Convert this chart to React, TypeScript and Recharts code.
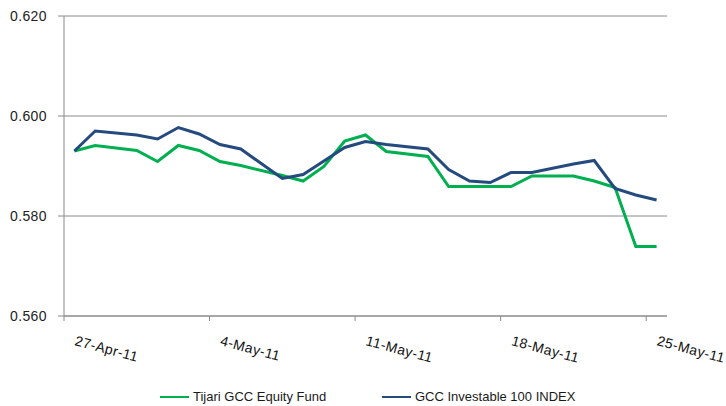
import { CartesianGrid, Legend, Line, LineChart, XAxis, YAxis } from "recharts";

// trading dates (Fridays missing)
const dates = [
  "2011-04-27", "2011-04-28", "2011-04-30", "2011-05-01", "2011-05-02",
  "2011-05-03", "2011-05-04", "2011-05-05", "2011-05-07", "2011-05-08",
  "2011-05-09", "2011-05-10", "2011-05-11", "2011-05-12", "2011-05-14",
  "2011-05-15", "2011-05-16", "2011-05-17", "2011-05-18", "2011-05-19",
  "2011-05-21", "2011-05-22", "2011-05-23", "2011-05-24", "2011-05-25",
];

const tijariFund = [
  0.593, 0.5941, 0.5931, 0.5909, 0.5941,
  0.5931, 0.5909, 0.5901, 0.5881, 0.587,
  0.5899, 0.595, 0.5962, 0.5929, 0.5919,
  0.5859, 0.5859, 0.5859, 0.5859, 0.588,
  0.588, 0.587, 0.5857, 0.5739, 0.5739,
];

const gccIndex = [
  0.593, 0.597, 0.5962, 0.5954, 0.5977,
  0.5964, 0.5943, 0.5934, 0.5875, 0.5883,
  0.591, 0.5937, 0.5949, 0.5943, 0.5934,
  0.5893, 0.587, 0.5867, 0.5887, 0.5887,
  0.5904, 0.5911, 0.5855, 0.5842, 0.5832,
];

const xTickLabels = ["27-Apr-11", "4-May-11", "11-May-11", "18-May-11", "25-May-11"];
const yTicks = [0.56, 0.58, 0.6, 0.62];

const START = Date.UTC(2011, 3, 27);
const DAY = 86400000;

const data = dates.map((d, i) => ({
  day: (Date.parse(d) - START) / DAY,
  fund: tijariFund[i],
  index: gccIndex[i],
}));

// date axis: each day is a slot, ticks on slot edges every week
const xTicks = xTickLabels.map((_, i) => i * 7 - 0.5);

const GREEN = "#00B050";
const BLUE = "#244A7E";
const GRID = "#8a8a8a";

function DateTick(props: any) {
  const { x, y, payload } = props;
  const idx = xTicks.indexOf(payload.value);
  return (
    <g transform={`translate(${x + 10},${y + 22}) rotate(15)`}>
      <text x={0} y={0} textAnchor="start" fontSize={14} fill="#111" letterSpacing={0.4}>
        {xTickLabels[idx]}
      </text>
    </g>
  );
}

function LegendBox() {
  const item = (left: number, color: string, label: string) => (
    <div
      style={{
        position: "absolute",
        left,
        top: 7,
        height: 16,
        display: "flex",
        alignItems: "center",
        whiteSpace: "nowrap",
      }}
    >
      <div style={{ width: 29, height: 2, background: color, marginRight: 4 }} />
      <span style={{ fontSize: 13, color: "#1a1a1a", lineHeight: "16px" }}>{label}</span>
    </div>
  );
  return (
    <div style={{ position: "relative", width: 726, height: 24 }}>
      {item(160, GREEN, "Tijari GCC Equity Fund")}
      {item(382, BLUE, "GCC Investable 100 INDEX")}
    </div>
  );
}

export default function App() {
  return (
    <div
      style={{
        position: "absolute",
        left: 0,
        top: 0,
        fontFamily: "'Liberation Sans', Arial, sans-serif",
        background: "#fff",
      }}
    >
      <LineChart
        width={726}
        height={406}
        data={data}
        margin={{ top: 16, right: 59, bottom: 0, left: 0 }}
      >
        <CartesianGrid vertical={false} stroke={GRID} />
        <XAxis
          dataKey="day"
          type="number"
          domain={[-0.5, 28.5]}
          ticks={xTicks}
          interval={0}
          height={66}
          tickSize={5}
          tickMargin={2}
          axisLine={{ stroke: GRID }}
          tickLine={{ stroke: GRID }}
          tick={(p: any) => <DateTick {...p} />}
        />
        <YAxis
          type="number"
          domain={[0.56, 0.62]}
          ticks={yTicks}
          width={64}
          tickSize={6}
          tickMargin={11}
          axisLine={{ stroke: GRID }}
          tickLine={{ stroke: GRID }}
          tick={{ fontSize: 14, fill: "#222", letterSpacing: 0.4 }}
          tickFormatter={(v: number) => v.toFixed(3)}
        />
        <Legend
          verticalAlign="bottom"
          height={24}
          wrapperStyle={{ left: 0, bottom: 0, width: 726, height: 24 }}
          content={() => <LegendBox />}
        />
        <Line
          type="linear"
          dataKey="fund"
          name="Tijari GCC Equity Fund"
          stroke={GREEN}
          strokeWidth={3}
          dot={false}
          isAnimationActive={false}
        />
        <Line
          type="linear"
          dataKey="index"
          name="GCC Investable 100 INDEX"
          stroke={BLUE}
          strokeWidth={3}
          dot={false}
          isAnimationActive={false}
        />
      </LineChart>
    </div>
  );
}
